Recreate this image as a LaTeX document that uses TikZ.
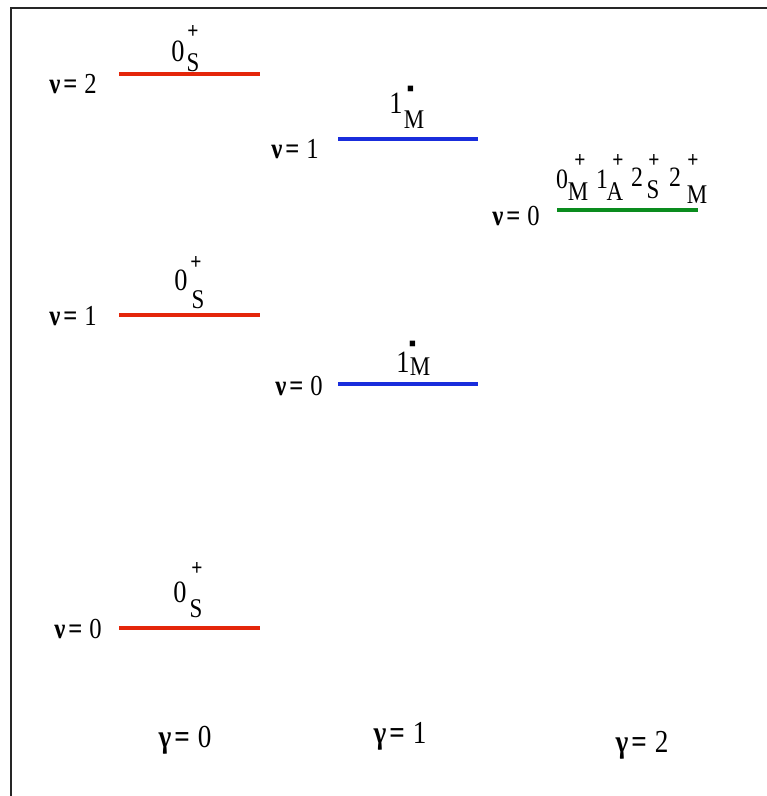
\documentclass[tikz,border=0pt]{standalone}
\usepackage{fontspec}
\newfontfamily\cf[FakeStretch=0.85]{Liberation Serif}
\definecolor{lvred}{RGB}{228,38,10}
\definecolor{lvblue}{RGB}{25,45,220}
\definecolor{lvgreen}{RGB}{10,140,30}
\newcommand\fsz[1]{\cf\fontsize{#1}{#1}\selectfont}
\newcommand\eqlab[2]{\textbf{#1}\kern3pt\textbf{=}\kern7pt#2}
\newcommand\eqgam[2]{\textbf{#1}\kern3pt\textbf{=}\kern8pt#2}
\tikzset{
  lab/.style={font=\fsz{29}, inner sep=0pt, anchor=base},
  gam/.style={font=\fsz{32}, inner sep=0pt, anchor=base},
  dig/.style={font=\fsz{31}, inner sep=0pt, anchor=base},
  gdig/.style={font=\fsz{28}, inner sep=0pt, anchor=base},
  subl/.style={font=\fsz{27}, inner sep=0pt, anchor=base},
  plus/.style={font=\fsz{23}\bfseries, inner sep=0pt, anchor=center},
  minus/.style={font=\fsz{22}\bfseries, inner sep=0pt, anchor=base},
  lvl/.style={line width=4.5pt},
  frame/.style={line width=1.5pt, draw=black!85}
}
\begin{document}
\begin{tikzpicture}[x=1pt,y=-1pt]
\useasboundingbox (0,0) rectangle (767,796);
% frame (top and left edges)
\draw[frame] (767,8) -- (11,8) -- (11,796);

% level lines
\draw[lvl, lvred] (119,74) -- (260,74);
\draw[lvl, lvred] (119,315) -- (260,315);
\draw[lvl, lvred] (119,628) -- (260,628);
\draw[lvl, lvblue] (338,139) -- (478,139);
\draw[lvl, lvblue] (338,384) -- (478,384);
\draw[lvl, lvgreen] (557,210) -- (698,210);

% nu labels
\node[lab] (n2a) at (73,93) {\eqlab{ν}{2}};
\node[lab] (n1a) at (73,325) {\eqlab{ν}{1}};
\node[lab] (n0a) at (78,638) {\eqlab{ν}{0}};
\node[lab] (n1b) at (295,158) {\eqlab{ν}{1}};
\node[lab] (n0b) at (299,395) {\eqlab{ν}{0}};
\node[lab] (n0c) at (516,225) {\eqlab{ν}{0}};

% gamma labels
\node[gam] (g0) at (185,747) {\eqgam{γ}{0}};
\node[gam] (g1) at (400,743) {\eqgam{γ}{1}};
\node[gam] (g2) at (642,752) {\eqgam{γ}{2}};

% red level labels 0_S^+
\node[dig] (ra0) at (178,61) {0};
\node[subl] (raS) at (193,71) {S};
\node[plus] (rap) at (193,32) {+};
\node[dig] (rb0) at (181,290) {0};
\node[subl] (rbS) at (198,308) {S};
\node[plus] (rbp) at (196,263) {+};
\node[dig] (rc0) at (180,602) {0};
\node[subl] (rcS) at (196,617) {S};
\node[plus] (rcp) at (197,569) {+};

% blue level labels 1_M^-
\node[dig] (ba1) at (396,113) {1};
\node[subl] (baM) at (414,128) {M};
\node[minus] (bam) at (411,104) {\scalebox{1.1}[3]{-}};
\node[dig] (bb1) at (403,372) {1};
\node[subl] (bbM) at (420,375) {M};
\node[minus] (bbm) at (413,359) {\scalebox{1.1}[3]{-}};

% green level labels
\node[gdig] (ga0) at (562,188) {0};
\node[subl] (gaM) at (578,200) {M};
\node[plus] (gap) at (580,161) {+};
\node[gdig] (gb1) at (602,188) {1};
\node[subl] (gbA) at (615,200) {A};
\node[plus] (gbp) at (618,161) {+};
\node[gdig] (gc2) at (637,186) {2};
\node[subl] (gcS) at (653,198) {S};
\node[plus] (gcp) at (654,161) {+};
\node[gdig] (gd2) at (675,186) {2};
\node[subl] (gdM) at (697,203) {M};
\node[plus] (gdp) at (693,161) {+};
\end{tikzpicture}
\end{document}
